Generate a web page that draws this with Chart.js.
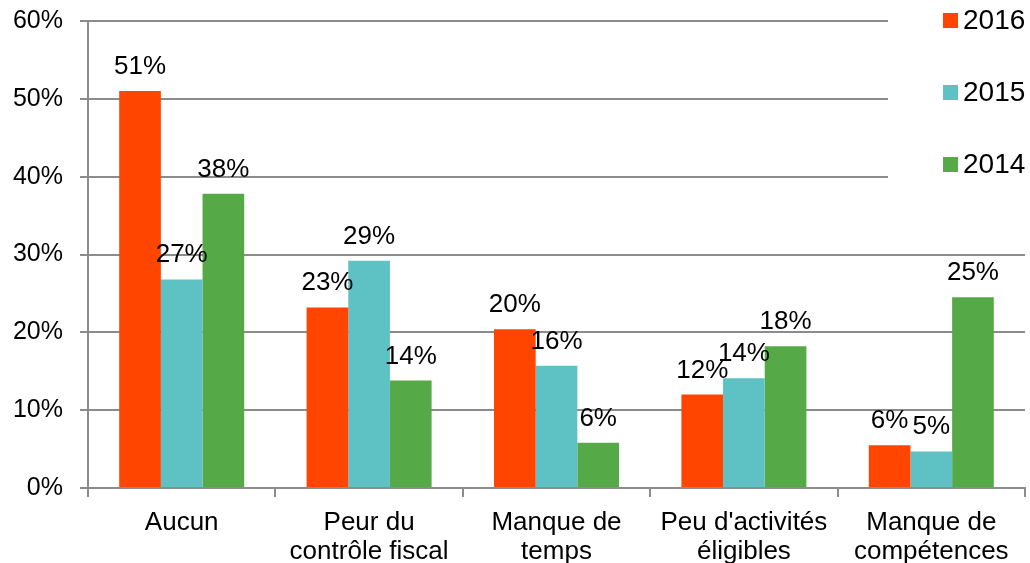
<!DOCTYPE html>
<html>
<head>
<meta charset="utf-8">
<script src="https://cdn.jsdelivr.net/npm/chart.js@4/dist/chart.umd.min.js"></script>
<style>
    html, body { margin: 0; padding: 0; background: #fff; }
    #wrap { width: 1030px; height: 563px; }
</style>
</head>
<body>
<div id="wrap"><canvas id="mainChart" width="1030" height="563"></canvas></div>
<script>
// Chart data
const CATEGORIES = [
    ['Aucun'],
    ['Peur du', 'contrôle fiscal'],
    ['Manque de', 'temps'],
    ["Peu d'activités", 'éligibles'],
    ['Manque de', 'compétences']
];
const YEARS = ['2016', '2015', '2014'];
const VALUES_2016 = [51.0, 23.2, 20.4, 12.0, 5.5];
const VALUES_2015 = [26.8, 29.2, 15.7, 14.1, 4.7];
const VALUES_2014 = [37.8, 13.8, 5.8, 18.2, 24.5];
const Y_TICKS = [0, 10, 20, 30, 40, 50, 60];

const COLORS = ['#FF4500', '#5EC1C4', '#55AA47'];
const FONT = '"Liberation Sans", Arial, sans-serif';
const GRID = '#8c8c8c';

// White box behind the legend, drawn over the gridlines
const legendBox = {
    id: 'legendBox',
    beforeDatasetsDraw(chart) {
        const ctx = chart.ctx;
        ctx.save();
        ctx.fillStyle = '#fff';
        ctx.fillRect(888, 0, 142, 190);
        ctx.restore();
    },
    afterDraw(chart) {
        const ctx = chart.ctx;
        ctx.save();
        ctx.font = '28px ' + FONT;
        ctx.textBaseline = 'middle';
        ctx.textAlign = 'left';
        chart.data.datasets.forEach((ds, i) => {
            const y = 20.5 + i * 72;
            ctx.fillStyle = ds.backgroundColor;
            ctx.fillRect(943, y - 7.5, 15, 15);
            ctx.fillStyle = '#000';
            ctx.fillText(ds.label, 963, y + 1);
        });
        ctx.restore();
    }
};

// Value labels above the bars
const valueLabels = {
    id: 'valueLabels',
    afterDatasetsDraw(chart) {
        const ctx = chart.ctx;
        ctx.save();
        ctx.font = '26px ' + FONT;
        ctx.fillStyle = '#000';
        ctx.textAlign = 'center';
        ctx.textBaseline = 'alphabetic';
        chart.data.datasets.forEach((ds, i) => {
            chart.getDatasetMeta(i).data.forEach((bar, j) => {
                ctx.fillText(Math.round(ds.data[j]) + '%', bar.x, bar.y - 17);
            });
        });
        ctx.restore();
    }
};

const ctx = document.getElementById('mainChart').getContext('2d');

new Chart(ctx, {
    type: 'bar',
    data: {
        labels: CATEGORIES,
        datasets: [
            { label: YEARS[0], data: VALUES_2016, backgroundColor: COLORS[0] },
            { label: YEARS[1], data: VALUES_2015, backgroundColor: COLORS[1] },
            { label: YEARS[2], data: VALUES_2014, backgroundColor: COLORS[2] }
        ]
    },
    options: {
        responsive: false,
        animation: false,
        layout: { padding: { top: 21, right: 5, left: 0, bottom: 0 } },
        datasets: {
            bar: { categoryPercentage: 0.667, barPercentage: 1.0, borderWidth: 0 }
        },
        plugins: {
            legend: { display: false },
            tooltip: { enabled: false }
        },
        scales: {
            x: {
                grid: {
                    offset: true,
                    drawOnChartArea: false,
                    drawTicks: true,
                    tickLength: 9,
                    color: GRID,
                    lineWidth: 2
                },
                border: { color: GRID, width: 2 },
                ticks: {
                    color: '#000',
                    font: { family: FONT, size: 26, lineHeight: 1.1 },
                    padding: 12,
                    maxRotation: 0,
                    autoSkip: false
                },
                afterFit(scale) { scale.height = 75; }
            },
            y: {
                min: 0,
                max: 60,
                afterBuildTicks(scale) {
                    scale.ticks = Y_TICKS.map(v => ({ value: v }));
                },
                grid: {
                    color: GRID,
                    lineWidth: 2,
                    tickLength: 8
                },
                border: { color: GRID, width: 2 },
                ticks: {
                    color: '#000',
                    font: { family: FONT, size: 25 },
                    padding: 17,
                    callback: v => v + '%'
                },
                afterFit(scale) {
                    scale.width = 88;
                    scale.paddingTop = 0;
                    scale.paddingBottom = 0;
                }
            }
        }
    },
    plugins: [legendBox, valueLabels]
});
</script>
</body>
</html>
